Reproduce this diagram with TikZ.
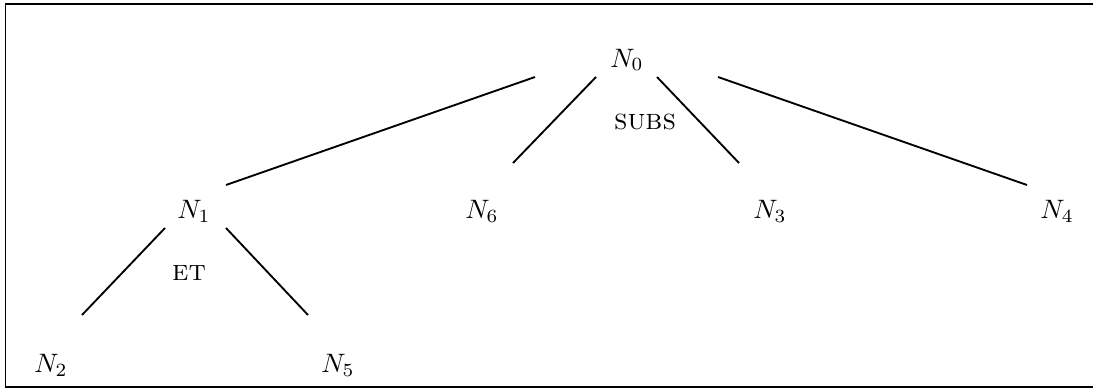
\documentclass[tikz,border=0pt]{standalone}
\usetikzlibrary{calc}
\begin{document}
\begin{tikzpicture}[x=0.375pt,y=-0.375pt,
  lbl/.style={anchor=base,inner sep=0pt},
  rel/.style={anchor=center,inner sep=0pt,font=\fontsize{11}{13}\selectfont\scshape},
  edge/.style={line width=0.7pt},
  frame/.style={line width=0.7pt}]
\useasboundingbox (0,0) rectangle (1093,389);
\draw[frame] (5.5,4.3) rectangle (1120,387.3);
\node[lbl] (N0) at (627,67) {$N_0$};
\node[lbl] (N1) at (194,218) {$N_1$};
\node[lbl] (N6) at (482,218) {$N_6$};
\node[lbl] (N3) at (770,218) {$N_3$};
\node[lbl] (N4) at (1057,218) {$N_4$};
\node[lbl] (N2) at (51,372) {$N_2$};
\node[lbl] (N5) at (338,372) {$N_5$};
\node[rel] (subs) at (645,122) {subs};
\node[rel] (et) at (189,273) {et};
\draw[edge] ($(N0.base)+(-92,10)$) -- ($(N1.base)+(32,-33)$);
\draw[edge] ($(N0.base)+(-31,10)$) -- ($(N6.base)+(31,-55)$);
\draw[edge] ($(N0.base)+(30,10)$) -- ($(N3.base)+(-31,-55)$);
\draw[edge] ($(N0.base)+(91,10)$) -- ($(N4.base)+(-30,-33)$);
\draw[edge] ($(N1.base)+(-29,10)$) -- ($(N2.base)+(31,-57)$);
\draw[edge] ($(N1.base)+(32,10)$) -- ($(N5.base)+(-30,-57)$);
\end{tikzpicture}
\end{document}
